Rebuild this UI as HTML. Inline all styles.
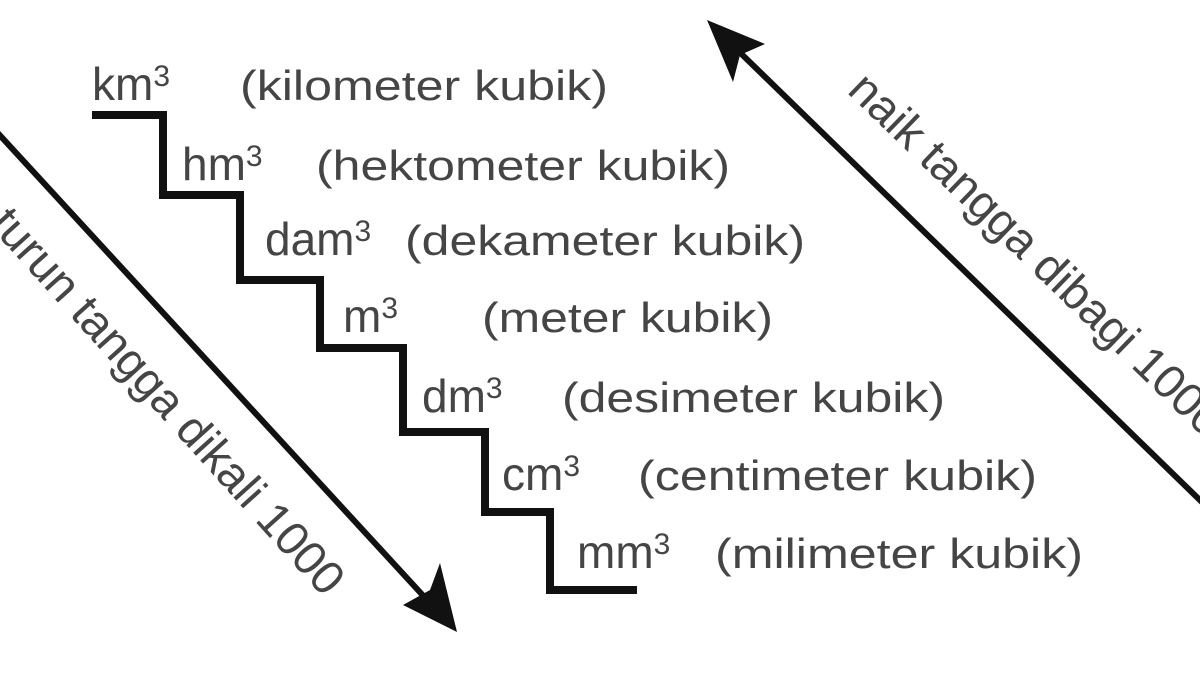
<!DOCTYPE html>
<html><head><meta charset="utf-8"><style>
html,body{margin:0;padding:0;background:#fff;}
svg{display:block;}
text{font-family:"Liberation Sans",Arial,sans-serif;fill:#454545;}
</style></head><body>
<svg width="1200" height="674" viewBox="0 0 1200 674" xmlns="http://www.w3.org/2000/svg">
<rect width="1200" height="674" fill="#fff"/>
<path d="M92 115 H163 V195 H240 V280 H320 V348 H403 V432 H485 V512 H550 V590 H637" fill="none" stroke="#111" stroke-width="8" stroke-linejoin="miter"/>
<g font-size="42">
<text x="92" y="100" font-size="46">km<tspan font-size="30" dy="-14">3</tspan></text>
<text x="240" y="100" textLength="368" lengthAdjust="spacingAndGlyphs">(kilometer kubik)</text>
<text x="182" y="180" font-size="46">hm<tspan font-size="30" dy="-14">3</tspan></text>
<text x="316" y="180" textLength="414" lengthAdjust="spacingAndGlyphs">(hektometer kubik)</text>
<text x="265" y="255" font-size="46">dam<tspan font-size="30" dy="-14">3</tspan></text>
<text x="405" y="255" textLength="400" lengthAdjust="spacingAndGlyphs">(dekameter kubik)</text>
<text x="343" y="332" font-size="46">m<tspan font-size="30" dy="-14">3</tspan></text>
<text x="482" y="332" textLength="291" lengthAdjust="spacingAndGlyphs">(meter kubik)</text>
<text x="422" y="412" font-size="46">dm<tspan font-size="30" dy="-14">3</tspan></text>
<text x="562" y="412" textLength="383" lengthAdjust="spacingAndGlyphs">(desimeter kubik)</text>
<text x="502" y="490" font-size="46">cm<tspan font-size="30" dy="-14">3</tspan></text>
<text x="638" y="490" textLength="399" lengthAdjust="spacingAndGlyphs">(centimeter kubik)</text>
<text x="577" y="568" font-size="46">mm<tspan font-size="30" dy="-14">3</tspan></text>
<text x="715" y="568" textLength="368" lengthAdjust="spacingAndGlyphs">(milimeter kubik)</text>
</g>
<!-- left arrow -->
<line x1="-5" y1="130" x2="440" y2="614" stroke="#111" stroke-width="6"/>
<polygon points="457,632 403,605 430,590 440,563" fill="#111"/>
<!-- right arrow -->
<line x1="1205" y1="505" x2="724" y2="37" stroke="#111" stroke-width="6"/>
<polygon points="707,20 765,44 740,55 733,82" fill="#111"/>
<text font-size="47" text-anchor="end" transform="translate(324,598) rotate(48)">turun tangga dikali 1000</text>
<text font-size="47" transform="translate(846,92) rotate(44)">naik tangga dibagi 1000</text>
</svg>
</body></html>
